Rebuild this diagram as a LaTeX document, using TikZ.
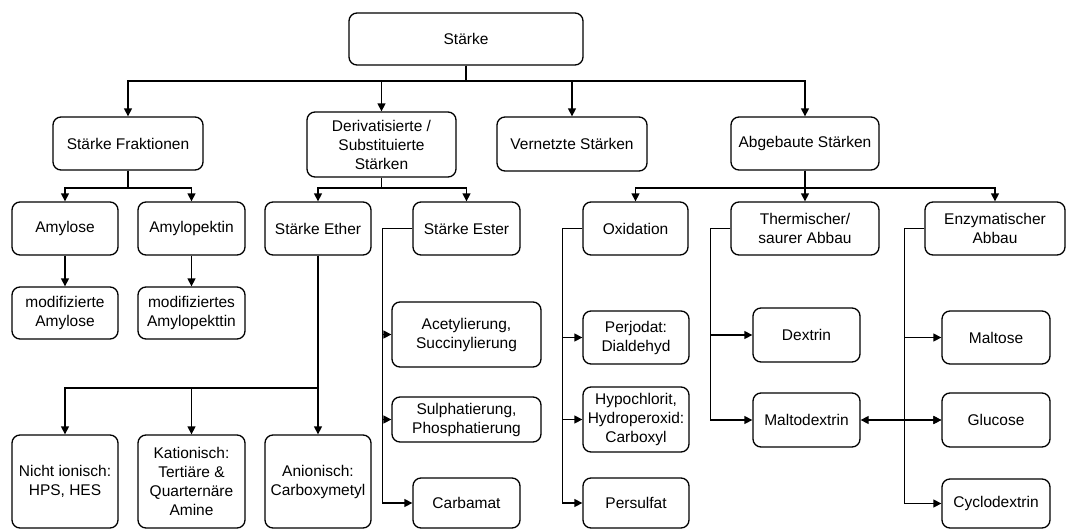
\documentclass[tikz,border=0pt]{standalone}
\usepackage{fontspec}
\setmainfont{Liberation Sans}
\usetikzlibrary{arrows.meta,positioning,calc}

\begin{document}
\begin{tikzpicture}[
		x=1pt, y=-1pt,
		>={Triangle[length=8pt,width=8pt]},
		box/.style={draw, rounded corners=8pt, line width=1.3pt, align=center, inner sep=2pt, font=\fontsize{15.5}{19}\selectfont},
		arr/.style={->, line width=1.3pt}
		]
		\useasboundingbox (0,0) rectangle (1066,530);
		
		% --------------------------------------------------
		% Top
		% --------------------------------------------------
		\node[box, minimum width=234pt, minimum height=52pt] (staerke) at (466,39) {Stärke};
		
		% --------------------------------------------------
		% Main groups
		% --------------------------------------------------
		\node[box, minimum width=150pt, minimum height=53pt] (fraktionen) at (128,143.5) {Stärke Fraktionen};
		\node[box, minimum width=149pt, minimum height=65pt] (deriv) at (381.5,144.5) {Derivatisierte /\\Substituierte\\Stärken};
		\node[box, minimum width=150pt, minimum height=54pt] (vernetzt) at (572,144) {Vernetzte Stärken};
		\node[box, minimum width=148pt, minimum height=53pt] (abgebaut) at (805,143.5) {Abgebaute Stärken};
		
		\coordinate (bus0) at (466,81);
		\foreach \n in {fraktionen,deriv,vernetzt,abgebaut}
		\draw[arr] (staerke.south) -- (bus0) -| (\n.north);
		
		% --------------------------------------------------
		% Fractions
		% --------------------------------------------------
		\node[box, minimum width=106pt, minimum height=53pt] (amylose) at (65,228.5) {Amylose};
		\node[box, minimum width=107pt, minimum height=53pt] (amylopektin) at (191.5,228.5) {Amylopektin};
		\node[box, minimum width=106pt, minimum height=52pt] (modamylose) at (65,313) {modifizierte\\Amylose};
		\node[box, minimum width=107pt, minimum height=52pt] (modamylopektin) at (191.5,313) {modifiziertes\\Amylopekttin};
		
		\coordinate (fraktbus) at (128,188);
		\foreach \n in {amylose,amylopektin}
		\draw[arr] (fraktionen.south) -- (fraktbus) -| (\n.north);
		\draw[arr] (amylose) -- (modamylose);
		\draw[arr] (amylopektin) -- (modamylopektin);
		
		% --------------------------------------------------
		% Derivatives: ether and ester
		% --------------------------------------------------
		\node[box, minimum width=106pt, minimum height=53pt] (ether) at (318,228.5) {Stärke Ether};
		\node[box, minimum width=107pt, minimum height=53pt] (ester) at (466.5,228.5) {Stärke Ester};
		
		\coordinate (derivbus) at (381.5,188);
		\foreach \n in {ether,ester}
		\draw[arr] (deriv.south) -- (derivbus) -| (\n.north);
		
		\node[box, minimum width=106pt, minimum height=93pt] (nichtionisch) at (65,481.5) {Nicht ionisch:\\HPS, HES};
		\node[box, minimum width=107pt, minimum height=93pt] (kationisch) at (191.5,481.5) {Kationisch:\\Tertiäre \&\\Quarternäre\\Amine};
		\node[box, minimum width=106pt, minimum height=93pt] (anionisch) at (318,481.5) {Anionisch:\\Carboxymetyl};
		
		\coordinate (etherbus) at (318,388);
		\foreach \n in {nichtionisch,kationisch}
		\draw[arr] (ether.south) -- (etherbus) -| (\n.north);
		\draw[arr] (ether.south) -- (anionisch.north);
		
		\node[box, minimum width=149pt, minimum height=65pt] (acetyl) at (466.5,334.5) {Acetylierung,\\Succinylierung};
		\node[box, minimum width=149pt, minimum height=45pt] (sulphat) at (466.5,419.5) {Sulphatierung,\\Phosphatierung};
		\node[box, minimum width=107pt, minimum height=50pt] (carbamat) at (466.5,503) {Carbamat};
		
		\foreach \n in {acetyl,sulphat,carbamat}
		\draw[arr] (ester.west) -- ++(-30,0) |- (\n.west);
		
		% --------------------------------------------------
		% Degraded starches
		% --------------------------------------------------
		\node[box, minimum width=105pt, minimum height=53pt] (oxidation) at (635.5,228.5) {Oxidation};
		\node[box, minimum width=148pt, minimum height=53pt] (thermisch) at (805,228.5) {Thermischer/\\saurer Abbau};
		\node[box, minimum width=140pt, minimum height=53pt] (enzym) at (995,228.5) {Enzymatischer\\Abbau};
		
		\coordinate (abgebus) at (805,188);
		\foreach \n in {oxidation,thermisch,enzym}
		\draw[arr] (abgebaut.south) -- (abgebus) -| (\n.north);
		
		\node[box, minimum width=106pt, minimum height=53pt] (perjodat) at (636,337.5) {Perjodat:\\Dialdehyd};
		\node[box, minimum width=106pt, minimum height=65pt] (hypochlorit) at (636,419.5) {Hypochlorit,\\Hydroperoxid:\\Carboxyl};
		\node[box, minimum width=106pt, minimum height=50pt] (persulfat) at (636,503) {Persulfat};
		
		\foreach \n in {perjodat,hypochlorit,persulfat}
		\draw[arr] (oxidation.west) -- ++(-20,0) |- (\n.west);
		
		\node[box, minimum width=107pt, minimum height=54pt] (dextrin) at (806.5,335) {Dextrin};
		\node[box, minimum width=107pt, minimum height=54pt] (maltodextrin) at (806.5,420) {Maltodextrin};
		
		\foreach \n in {dextrin,maltodextrin}
		\draw[arr] (thermisch.west) -- ++(-20,0) |- (\n.west);
		
		\node[box, minimum width=108pt, minimum height=53pt] (maltose) at (996,337.5) {Maltose};
		\node[box, minimum width=108pt, minimum height=54pt] (glucose) at (996,420) {Glucose};
		\node[box, minimum width=108pt, minimum height=49pt] (cyclodextrin) at (996,503.5) {Cyclodextrin};
		
		\foreach \n in {maltose,glucose,cyclodextrin}
		\draw[arr] (enzym.west) -- ++(-20,0) |- (\n.west);
		
		\draw[arr, <->] (maltodextrin.east) -- (glucose.west);
		
	\end{tikzpicture}
\end{document}
